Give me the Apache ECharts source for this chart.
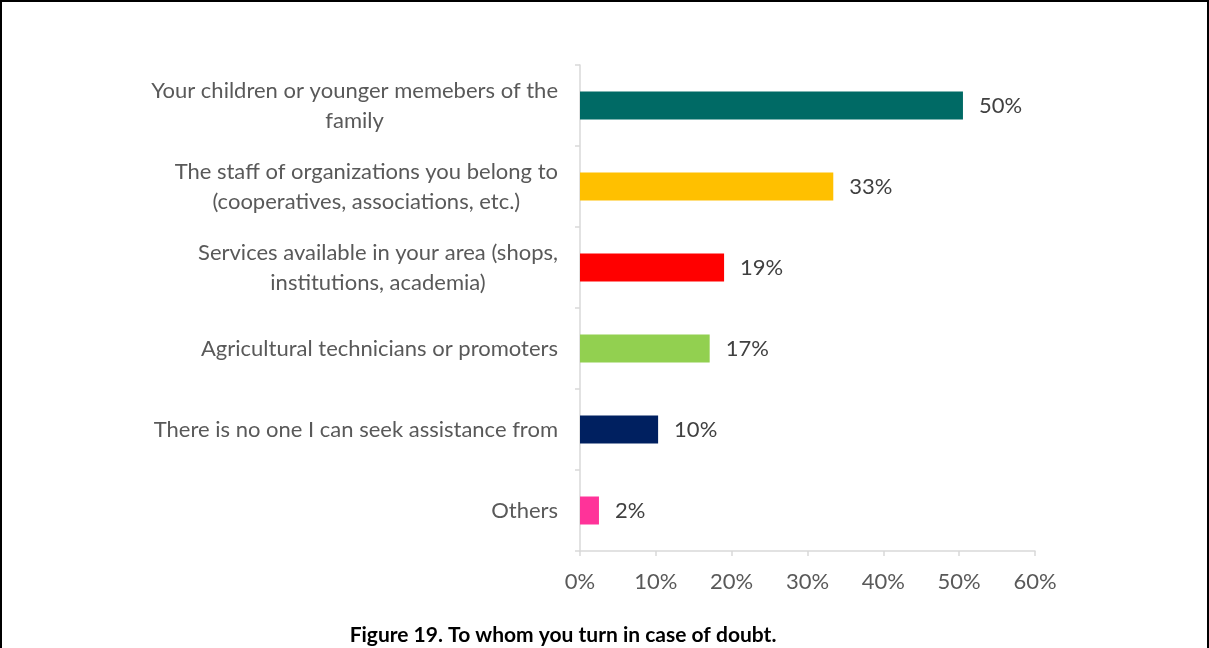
<!DOCTYPE html>
<html>
<head>
<meta charset="utf-8">
<script src="https://cdn.jsdelivr.net/npm/echarts@6/dist/echarts.min.js"></script>
<style>
html,body{margin:0;padding:0;background:#fff;}
#frame{position:absolute;left:0;top:0;width:1205px;height:660px;border-left:2px solid #000;border-top:2px solid #000;border-right:2px solid #000;}
#chart{position:absolute;left:0;top:0;width:1209px;height:648px;}
</style>
</head>
<body>
<div id="frame"></div>
<div id="chart"></div>
<script>
const categories = [
  "Your children or younger memebers of the\nfamily",
  "The staff of organizations you belong to\n(cooperatives, associations, etc.)",
  "Services available in your area (shops,\ninstitutions, academia)",
  "Agricultural technicians or promoters",
  "There is no one I can seek assistance from",
  "Others"
];
const values = [50.5, 33.4, 19.0, 17.1, 10.3, 2.5];
const labels = ["50%", "33%", "19%", "17%", "10%", "2%"];
const colors = ["#006A65", "#FFC000", "#FF0000", "#92D050", "#002060", "#FF3399"];
const xTicks = [0, 10, 20, 30, 40, 50, 60];
const titleText = "Figure 19. To whom you turn in case of doubt.";

const FONT = "Lato";
const FS = 22;
const chart = echarts.init(document.getElementById('chart'), null, {renderer: 'canvas'});
chart.setOption({
  backgroundColor: 'transparent',
  animation: false,
  title: {
    text: titleText,
    left: 558, top: 620, textAlign: 'center',
    textStyle: {fontFamily: FONT, fontWeight: 'bold', fontSize: 21, color: '#000'}
  },
  grid: {left: 580, right: 174, top: 65, bottom: 97, containLabel: false},
  xAxis: {
    type: 'value', min: xTicks[0], max: xTicks[xTicks.length - 1], interval: 10,
    splitLine: {show: false},
    axisLine: {show: true, lineStyle: {color: '#D9D9D9', width: 1.5}},
    axisTick: {show: true, length: 5, lineStyle: {color: '#D9D9D9', width: 1.5}},
    axisLabel: {formatter: v => v + '%', color: '#595959', fontFamily: FONT, fontSize: FS, margin: 20}
  },
  yAxis: {
    type: 'category', inverse: true, data: categories,
    axisLine: {show: true, lineStyle: {color: '#D9D9D9', width: 1.5}},
    axisTick: {show: true, length: 5, lineStyle: {color: '#D9D9D9', width: 1.5}},
    axisLabel: {
      color: '#595959', fontFamily: FONT, fontSize: FS, margin: 22, lineHeight: 30,
      formatter: v => v.split('\n').map(s => '{c|' + s + '}').join('\n'),
      rich: {c: {align: 'center', color: '#595959', fontFamily: FONT, fontSize: FS, lineHeight: 30}}
    }
  },
  series: [{
    type: 'bar', barWidth: 28,
    data: values.map((v, i) => ({value: v, itemStyle: {color: colors[i]}})),
    label: {
      show: true, position: 'right', distance: 16,
      formatter: p => labels[p.dataIndex],
      color: '#404040', fontFamily: FONT, fontSize: FS
    }
  }]
});
</script>
</body>
</html>
